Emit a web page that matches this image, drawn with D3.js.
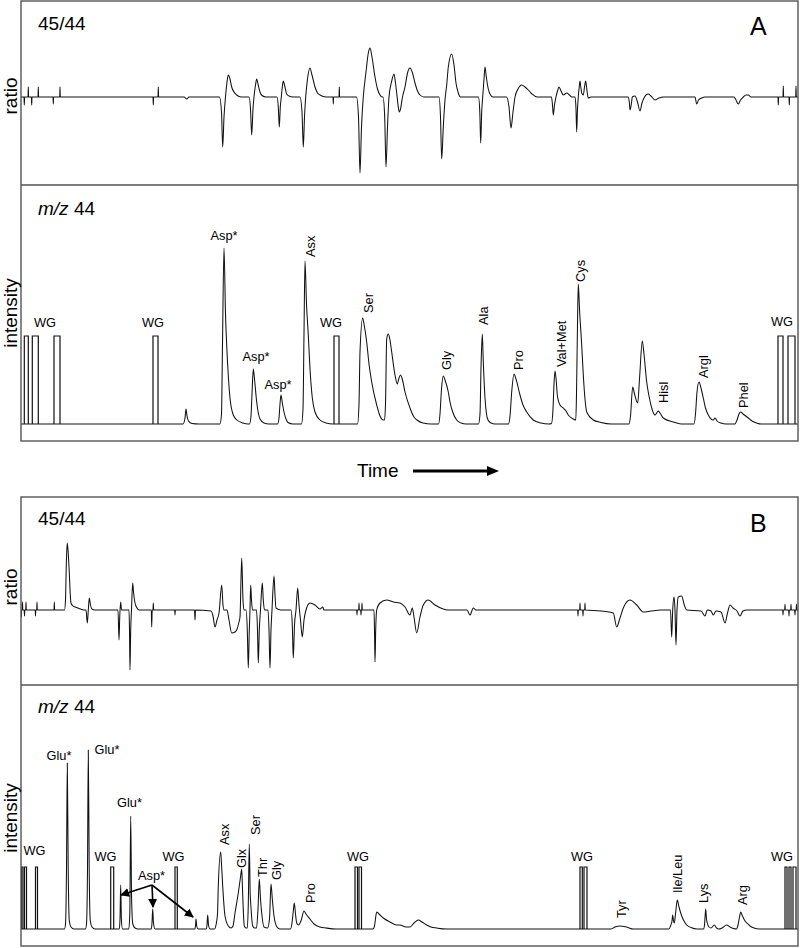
<!DOCTYPE html>
<html><head><meta charset="utf-8">
<script src="https://cdn.jsdelivr.net/npm/d3@7"></script>
<style>body{margin:0;background:#fff}svg{display:block;font-family:"Liberation Sans",Arial,sans-serif}</style>
</head><body>
<script>
// ---------- DATA (time in arbitrary units, values in arbitrary units above baseline) ----------
const ratioA = [
[0,0],[3,0],[3.3,-8],[3.6,0],[7,0],[7.3,10],[7.6,0],[10.4,0],[10.7,-8],[11,0],[17,0],[17.3,10],[17.6,0],[32,0],[32.3,-7],[32.6,0],[38.7,0],[39,10],[39.3,0],
[132,0],[132.3,-8],[132.6,0],[137,0],[137.3,10],[137.6,0],
[163,0],[165.7,-2],[168,0],
[198.5,0],[200.5,-15],[201.7,-50],[203,-20],[204.5,0],[206,15],[207.3,22],[209,18],[210.7,10],[213,5],[215.7,2],[220,0],
[228,0],[229.5,-12],[230.7,-38],[232,-12],[233,0],[234.5,12],[235.7,18],[237,13],[239,5],[241,1.5],[245,0],
[256,0],[257.3,-10],[258.3,-30],[259.3,-10],[260.3,0],[261.3,10],[262.3,16],[263.5,12],[265.7,3],[268,1],[272,0],
[279,0],[281,-15],[282.3,-50],[283.5,-20],[284.7,0],[286.5,18],[289,29],[291,22],[294,10],[296.5,4],[299,2],[305,0],
[312,0],[312.3,-7],[312.6,0],[318,0],[318.3,10],[318.6,0],
[335.5,0],[337.5,-20],[339,-76],[340.5,-30],[342.3,0],[345,25],[347.5,45],[349,49],[351,40],[354,20],[356.5,8],[359,2],[361,0],
[362,0],[363.7,-20],[365,-70],[366.5,-30],[368,0],[370.5,15],[373,23],[374.5,14],[375.7,4],[377,-8],[378.3,-15],[379.5,-12],[381.5,0],[384,10],[386.5,24],[389,29],[391.5,24],[394,14],[396.5,6],[399,2],[403,0],
[418,0],[419.5,-20],[420.7,-62],[422.3,-30],[424,-3],[425.7,12],[427.3,30],[430.7,43],[433,32],[435,14],[437,5],[439.5,0],
[457.5,0],[458.8,-15],[459.7,-46],[460.7,-15],[461.7,0],[463,18],[464,30],[465.3,20],[467.3,8],[469.5,2],[472,0],
[485.5,0],[488,-10],[490,-31],[492,-15],[494,0],[497,8],[500.7,12],[504,10],[507.3,7],[511,3],[516,0],
[530.5,0],[531.5,-8],[532.3,-18],[533.5,-8],[535,0],[536.5,6],[538,10],[540,6],[542.3,2],[545.7,4],[548.5,2],[550.7,0],
[554,0],[555,-12],[555.7,-35],[556.5,-12],[557.3,0],[558.2,10],[559,16],[559.8,10],[560.7,4],[562.3,2],[563.5,10],[564.7,16],[566,6],[567.3,-1],[570,0],
[607,0],[608.3,-5],[609,-13],[610.5,-6],[611.3,0],[614,1],[616.5,-5],[619,-14],[621,-6],[623,-1],[625,2],[627.3,3],[630,1],[634,-3],[638,-1],[642.3,0],
[674,0],[675.7,-7],[677.5,-3],[680.7,-1],[684,0],
[713,0],[715,-3],[717.3,-7],[719.5,-3],[722.3,0],[725,2],[727.3,2],[730,0],
[757,0],[757.3,-8],[757.6,0],[762,0],[762.3,11],[762.6,0],[768,0],[768.3,-8],[768.6,0],[774.7,0],[775,11],[775.3,0],[777,0]
];

const intensityA = [
[0,0],[162,0],[164,6],[165,15],[166,8],[167.5,3],[171,0.5],[178,0],
[199,0],[200.5,10],[201.5,80],[203,176],[204.5,110],[205.7,79],[207.5,45],[209,26],[212.3,9],[216,4],[222,1],[227,0],
[228.5,0],[230,8],[231,30],[232.3,55],[233.5,45],[235.7,22],[237.5,10],[239,5],[243,1],[248,0],
[256.5,0],[258,6],[259,20],[260,29],[261.5,20],[263,12],[265,5],[267,1.5],[272,0],
[280.5,0],[282,15],[283,90],[284,163],[285.5,120],[287.3,89],[289,55],[290.7,32],[294,12],[299,4],[305,1],[312,0],
[336.5,0],[338,20],[339,72],[341.7,106],[343,100],[345.7,82],[348,60],[350.7,42],[355.7,19],[359,8],[362.3,4],
[363.5,4],[364.5,20],[365.7,85],[367.3,90],[369,84],[370.7,72],[374,49],[376.3,40],[378,46],[379.5,49],[381.5,44],[384,32],[389,16],[393,7],[396,4],[402,1],[410,0],
[417.5,0],[419,10],[420.5,35],[422.3,48],[424,44],[427.3,32],[429,22],[431.7,12],[435.7,4],[440,1],[445,0],
[457.5,0],[459,10],[460,56],[461.3,90],[462.3,62],[464,26],[465.5,10],[467,4],[470,1],[474,0],
[487.5,0],[489,8],[490.7,32],[493,50],[495,45],[499,29],[502,19],[505.7,12],[512.3,4],[520,1],[528,0],
[530.5,0.5],[532,15],[533,40],[534,53],[535,46],[536.3,29],[539,19],[542.3,16],[545,13],[547.3,9],[552.3,5],[554.8,4],
[555.5,30],[556.5,100],[557.3,140],[558.5,115],[560.7,79],[562.3,49],[564,25],[565.7,12],[572.3,4],[580,1.5],[590,0],
[608,0],[609.5,8],[611.7,37],[613.5,30],[616.7,21],[618.5,45],[621.3,83],[623,70],[625.7,42],[628,28],[630.7,16],[634,9],[637.3,13],[639,11],[642.3,6],[652.3,2],[660,0],
[673,0],[674.5,10],[676,32],[678,42],[680,36],[682.3,26],[684.5,16],[687.3,9],[692.3,4],[694,6],[696,3],[700,1],[705,0],
[714,0],[716,4],[718,10],[719.7,12],[722,10],[727.3,6],[731,3],[735.7,1],[740,0],[777,0]
];

const ratioB = [
[0,0],[0.3,-7],[0.6,0],[1.2,0],[1.5,8],[1.8,0],[3.2,0],[3.5,-6],[3.8,0],[4.7,0],[5,8],[5.3,0],[14.2,0],[14.5,-6],[14.8,0],[15.7,0],[16,8],[16.3,0],
[33,0],[33.3,8],[33.6,0],
[43.5,0],[44.5,10],[45.3,45],[46.2,67],[47,60],[48.3,37],[49.3,15],[50,7],[52,4],[54,3],[58,1.5],[63,0],
[65,0],[66.3,-13],[67.3,0],[68.3,12],[69.5,5],[71,1],[74,0],
[97,0],[98,-30],[98.8,-5],[99.7,8],[100.5,0],[108,0],[108.5,-20],[109,-60],[109.7,-20],[110.5,0],[111.7,27],[112.5,18],[114,7],[116,2],[118,0],
[130.3,0],[130.7,-17],[131.2,0],[132,0],[132.3,7],[132.7,0],
[153.7,0],[154,-5],[154.3,0],
[173.5,0],[174,-10],[174.5,0],
[190,-1],[192,-6],[194,-17],[196,-10],[198,-3],[200.7,25],[202,5],[203,0],
[206,0],[208,-10],[210.7,-23],[214,-22],[215.7,-20],[218,-12],[219,-7],[220.7,52],[222,10],[223,0],
[225,0],[226.3,-20],[227.3,-58],[228.3,-20],[229,0],[229.7,25],[230.5,10],[231.5,0],
[235.5,0],[236.5,-20],[237.3,-53],[238.3,-20],[239.5,0],[241.3,27],[242.3,10],[243.5,0],
[247,0],[248,-20],[249,-58],[250,-20],[251,0],[253,34],[254,15],[255,2],[260,0],
[270,0],[271.3,-15],[272.3,-48],[273.5,-15],[275,0],[276.7,22],[278,5],[279.5,-10],[281.3,-27],[283,-10],[285,0],[289,7],[294,5],[299,1],[301.7,3],[303,0],
[335.7,0],[336,-5],[336.3,0],[337.7,0],[338,7],[338.3,0],[339.7,0],[340,-5],[340.3,0],[340.7,0],[341,7],[341.3,0],
[353,0],[353.5,-20],[354,-52],[354.7,-20],[355.7,0],[359,7],[365.7,10],[372.3,8],[379,7],[384,3],[389,-5],[391.3,2],[393,-7],[395.7,-23],[399,-7],[402.3,5],[407.3,10],[414,5],[422.3,1],[426,0],
[446,0],[449,-5],[452.3,2],[455,0],
[556.7,0],[557,-6],[557.3,0],[558.7,0],[559,7],[559.3,0],[561.7,0],[562,-6],[562.3,0],[563.7,0],[564,7],[564.3,0],
[580,-1],[592.3,-3],[595.7,-17],[599,-8],[602.3,2],[609,10],[615.7,5],[622.3,-2],[630,-1],[640,0],
[649.5,0],[650.7,-27],[651.7,0],[653,13],[654,0],[655,-35],[656,0],[657.3,13],[660.7,14],[663,6],[665.7,0],
[680,-1],[684,-6],[686.3,0],[690,-1],[692.3,-5],[695,-1],[700,-2],[704,-13],[706.5,-3],[709,5],[712,2],[716,-1],[719,-6],[722,-1],[726,0],
[761.7,0],[762,-5],[762.3,0],[763.7,0],[764,6],[764.3,0],[767.7,0],[768,-6],[768.3,0],[769.7,0],[770,6],[770.3,0],[773.7,0],[774,-5],[774.3,0],[775.2,0],[775.5,6],[775.8,0],[777,0]
];

const intensityB = [
[0,0],[43.5,0],[44.5,5],[45.5,60],[46.3,166],[47.2,60],[48.3,8],[50,2],[53,0],
[64.5,0],[65.5,5],[66.5,60],[67.3,179],[68.2,60],[69.3,8],[71,2],[74,0],
[98.3,0],[99,10],[99.7,44],[100.4,10],[101.5,0],
[107.8,0],[108.8,15],[109.7,113],[110.6,30],[111.8,5],[114,1],[117,0],
[130.3,0],[131,6],[131.7,20],[132.5,6],[134,0],
[173.8,0],[174.5,3],[175,10],[175.7,3],[177,0],
[185.3,0],[186,4],[186.7,14],[187.5,4],[189,0],
[193.5,0],[195,4],[196.5,15],[197.3,43],[199.7,77],[200.5,65],[201.7,43],[204,13],[207.3,3],[210,1],
[212,3],[214,16],[217.3,36],[219.5,52],[220.7,60],[221.5,40],[222,26],[223.3,3],[225,1],[226.3,1],[227.3,25],[228.3,85],[229.2,35],[229.7,26],[231.7,3],[233.5,1],[235.5,1],[237,20],[238.3,50],[239.5,30],[240.7,16],[243,2],[246.5,1],[248.5,10],[250,45],[251.3,30],[253,13],[256,2],[259,0],
[269.5,0],[271,6],[272.3,18],[273.3,26],[274.5,15],[275.7,6],[277.5,4],[280,8],[283,18],[285,15],[289,10],[293,5],[299,2],[305,1],[315,0],
[352,0],[353.5,3],[355,14],[355.7,17],[358,15],[362.3,11],[369,7],[375.7,4],[379,4],[385,2],[389,2],[393,6],[397.3,9],[401,7],[405.7,4],[410,2],[415.7,1],[425,0],
[590,0],[594,2],[599,3],[603,2.5],[607,1.5],[612,0],
[648,0],[649.5,3],[651,8],[651.7,14],[652.5,8],[653.3,6],[654.5,15],[656.3,29],[658,22],[660.7,13],[663,8],[665.7,4],[670,1.5],[676,0],
[682.5,0],[683.5,4],[684.7,20],[685.5,10],[686.3,6],[688,2],[690,1],[693.3,4],[695.5,1],[698,0],[701,1],[705.7,4],[709,2],[712.5,0.5],
[715.5,0],[717,4],[718.5,12],[719.7,17],[721,14],[724,8],[727,5],[729,3],[733,1],[738,0],[777,0]
];

// working-gas (WG) reference pulses: [start, end] times, and pulse height
const wgPulsesA = [[3.3,7.3],[11.3,17.3],[33,39],[132,137],[313,318],[757,762],[767,774]];
const wgHeightA = 88;
const wgPulsesB = [[0.5,2],[3.5,5.5],[14.5,16.5],[89.7,92.7],[154,156.3],[334,336.5],[338,340.5],[559,561.3],[563,566],[764,766],[768,770],[772,775]];
const wgHeightB = 62;

// peak labels: [text, time, value]
const flatLabelsA = [["WG",24,97],["WG",132,97],["Asp*",203,184],["Asp*",235,63],["Asp*",257,35],["WG",310,97],["WG",761,98]];
const upLabelsA = [["Asx",293.5,167],["Ser",352,111],["Gly",429.5,54],["Ala",467,99],["Pro",502,54],["Val+Met",545,57],["Cys",563.5,142],["Hisl",647,21],["Argl",686.5,46],["Phel",727,16]];
const flatLabelsB = [["WG",13.5,74],["Glu*",38,169],["Glu*",86,175],["Glu*",108.5,122],["WG",84.5,68],["WG",152.5,68],["Asp*",130.5,49],["WG",337,68],["WG",561,68],["WG",761,68]];
const upLabelsB = [["Asx",208,84],["Glx",225,61],["Ser",239,94],["Thr",246,52],["Gly",259.5,49],["Pro",294,26],["Tyr",604.5,11],["Ile/Leu",661,36],["Lys",686.5,26],["Arg",725.5,24]];
const aspArrowFrom = [131,44];
const aspArrowTargets = [[100,34],[132,22],[172,12]];

// ---------- DRAW ----------
const svg = d3.select("body").append("svg").attr("width",800).attr("height",948);
svg.append("rect").attr("width",800).attr("height",948).attr("fill","#fff");
const defs = svg.append("defs");
defs.append("marker").attr("id","ah").attr("viewBox","0 0 10 10").attr("refX",9).attr("refY",5)
  .attr("markerWidth",6).attr("markerHeight",6).attr("markerUnits","userSpaceOnUse").attr("orient","auto")
  .append("path").attr("d","M0,0L10,5L0,10z").attr("fill","#000");
// bigger arrowhead for markers (scale)
defs.select("#ah").attr("markerWidth",9).attr("markerHeight",9);

const x = d3.scaleLinear().domain([0,777]).range([21,798]);
const panels = [
  {id:"rA", data:ratioA, y:d3.scaleLinear().domain([-88,96]).range([185,1])},
  {id:"iA", data:intensityA, y:d3.scaleLinear().domain([-17,239]).range([441,185]), wg:wgPulsesA, wgH:wgHeightA, flat:flatLabelsA, up:upLabelsA},
  {id:"rB", data:ratioB, y:d3.scaleLinear().domain([-75,113]).range([685,497])},
  {id:"iB", data:intensityB, y:d3.scaleLinear().domain([-17,244]).range([946,685]), wg:wgPulsesB, wgH:wgHeightB, flat:flatLabelsB, up:upLabelsB}
];

panels.forEach(p => {
  const [y0,y1] = p.y.range();
  defs.append("clipPath").attr("id","clip-"+p.id).append("rect")
    .attr("x",x.range()[0]).attr("y",y1).attr("width",x.range()[1]-x.range()[0]).attr("height",y0-y1);
  const g = svg.append("g").attr("clip-path","url(#clip-"+p.id+")");
  const line = d3.line().x(d=>x(d[0])).y(d=>p.y(d[1])).curve(d3.curveMonotoneX);
  g.append("path").attr("d",line(p.data)).attr("fill","none").attr("stroke","#111").attr("stroke-width",1.05).attr("stroke-linejoin","round");
  if (p.wg) {
    const wl = d3.line().x(d=>x(d[0])).y(d=>p.y(d[1]));
    p.wg.forEach(w => {
      g.append("path").attr("d", wl([[w[0],0],[w[0],p.wgH],[w[1],p.wgH],[w[1],0]]))
        .attr("fill","none").attr("stroke","#111").attr("stroke-width",1.2);
    });
  }
  const lg = svg.append("g").attr("font-size",12.8).attr("fill","#000");
  (p.flat||[]).forEach(l => {
    lg.append("text").attr("x",x(l[1])).attr("y",p.y(l[2])).attr("text-anchor","middle").text(l[0]);
  });
  (p.up||[]).forEach(l => {
    lg.append("text").attr("transform",`translate(${x(l[1])},${p.y(l[2])}) rotate(-90)`).attr("text-anchor","start").text(l[0]);
  });
});

// Asp* arrows in panel B
const yIB = panels[3].y;
aspArrowTargets.forEach(tg => {
  svg.append("line").attr("x1",x(aspArrowFrom[0])).attr("y1",yIB(aspArrowFrom[1]))
    .attr("x2",x(tg[0])).attr("y2",yIB(tg[1])).attr("stroke","#000").attr("stroke-width",1.6)
    .attr("marker-end","url(#ah)");
});

// frames
const fr = svg.append("g").attr("fill","none").attr("stroke","#555").attr("stroke-width",1.4);
[[panels[0],panels[1]],[panels[2],panels[3]]].forEach(([a,b]) => {
  const top = a.y.range()[1], mid = a.y.range()[0], bot = b.y.range()[0];
  fr.append("rect").attr("x",x.range()[0]).attr("y",top).attr("width",x.range()[1]-x.range()[0]).attr("height",bot-top);
  fr.append("line").attr("x1",x.range()[0]).attr("x2",x.range()[1]).attr("y1",mid).attr("y2",mid);
});

// panel texts
const tx = svg.append("g").attr("fill","#000");
function ratioTitle(yb){ tx.append("text").attr("x",38).attr("y",yb).attr("font-size",19).text("45/44"); }
function mzTitle(yb){ const t = tx.append("text").attr("x",38).attr("y",yb).attr("font-size",19);
  t.append("tspan").attr("font-style","italic").text("m/z"); t.append("tspan").text(" 44"); }
ratioTitle(30); ratioTitle(525);
mzTitle(215); mzTitle(713);
tx.append("text").attr("x",750).attr("y",35).attr("font-size",25).text("A");
tx.append("text").attr("x",750).attr("y",532).attr("font-size",25).text("B");
function yTitle(txt, cy){ tx.append("text").attr("transform",`translate(17,${cy}) rotate(-90)`).attr("text-anchor","middle").attr("font-size",19).text(txt); }
yTitle("ratio",96); yTitle("intensity",313); yTitle("ratio",587); yTitle("intensity",818);

// Time arrow
tx.append("text").attr("x",357).attr("y",477).attr("font-size",19).text("Time");
svg.append("line").attr("x1",413).attr("x2",489).attr("y1",471).attr("y2",471).attr("stroke","#000").attr("stroke-width",3);
svg.append("path").attr("d","M487,466L499,471L487,476Z").attr("fill","#000");
</script>
</body></html>
